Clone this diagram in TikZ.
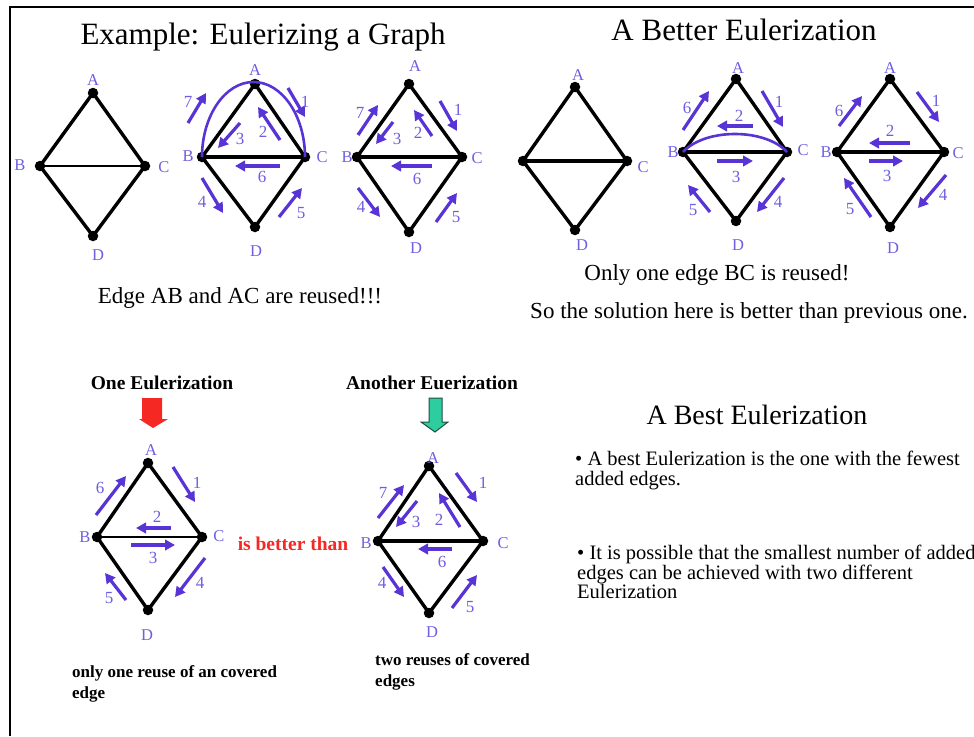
\documentclass[tikz,border=0pt]{standalone}
\usepackage{fontspec}
\setmainfont{Liberation Serif}
\usetikzlibrary{arrows.meta}
\definecolor{lblue}{RGB}{110,95,225}
\definecolor{ablue}{RGB}{88,52,215}
\definecolor{tealc}{RGB}{45,205,160}
\definecolor{tealb}{RGB}{30,80,65}
\definecolor{redc}{RGB}{245,40,35}
\newcommand\fsz[1]{\fontsize{#1}{#1}\selectfont}
\newcommand\flow[5]{\coordinate (#1s) at (#2); \coordinate (#1e) at (#3); \draw[arr] (#1s) -- (#1e); \node[num] (#1n) at (#5) {#4};}
\newcommand\vx[2]{\node[vtx] (#1) at (#2) {};}
\newcommand\lb[3]{\node[lbl] (#1) at (#2) {#3};}
\begin{document}
\begin{tikzpicture}[x=1pt,y=-1pt,
  vtx/.style={circle,fill=black,inner sep=0pt,minimum size=10.5pt},
  edg/.style={line width=3.4pt,line join=round},
  lbl/.style={text=lblue,font=\fsz{16.5},inner sep=0pt},
  num/.style={text=lblue,font=\fsz{17},inner sep=0pt},
  arr/.style={draw=ablue,line width=3.2pt,-{Triangle[length=10pt,width=10.5pt]}},
  arcs/.style={draw=ablue,line width=2.6pt},
  title/.style={font=\fsz{31},inner sep=0pt},
  body/.style={font=\fsz{23},inner sep=0pt},
  bbold/.style={font=\bfseries\fsz{19.5},inner sep=0pt},
  small/.style={font=\bfseries\fontsize{17}{21}\selectfont,inner sep=0pt,align=left,anchor=west},
  bullet/.style={font=\fontsize{20.5}{19.5}\selectfont,inner sep=0pt,align=left,anchor=north west},
]
\useasboundingbox (0,0) rectangle (974,736);
\fill[white] (0,0) rectangle (974,736);
\draw[line width=2pt] (10,736) -- (10,7) -- (974,7);

% titles and texts
\node[title] (t1) at (263,37) {Example: Eulerizing a Graph};
\node[title] (t2) at (744,30) {A Better Eulerization};
\node[body] (t3) at (240,298) {Edge AB and AC are reused!!!};
\node[body] (t4) at (717,275) {Only one edge BC is reused!};
\node[body] (t5) at (749,313) {So the solution here is better than previous one.};
\node[bbold] (t6) at (162,383) {One Eulerization};
\node[bbold] (t7) at (432,383) {Another Euerization};
\node[bbold,text=redc] (t8) at (293,544) {is better than};
\node[small] (t9) at (72,684) {only one reuse of an covered\\edge};
\node[small] (t10) at (375,672) {two reuses of covered\\edges};
\node[font=\fsz{28},inner sep=0pt] (t11) at (757,415) {A Best Eulerization};
\begin{scope}
\clip (0,0) rectangle (974,736);
\node[bullet] (t12) at (575,451) {• A best Eulerization is the one with the fewest\\added edges.};
\node[bullet] (t13) at (577,545) {• It is possible that the smallest number of added\\edges can be achieved with two different\\Eulerization};
\end{scope}

% block arrows
\fill[redc] (142,398) -- (162,398) -- (162,419) -- (168,419) -- (153,428) -- (139,419) -- (142,419) -- cycle;
\filldraw[fill=tealc,draw=tealb,line width=1pt] (429,398) -- (442,398) -- (442,422) -- (448,422) -- (435,432) -- (421,422) -- (429,422) -- cycle;

% graph 1
\vx{g1A}{93,93}\vx{g1B}{40,166}\vx{g1C}{145,166}\vx{g1D}{93,236}
\draw[edg] (g1A.center) -- (g1B.center) -- (g1D.center) -- (g1C.center) -- cycle;
\draw[line width=2.8pt] (g1B.center) -- (g1C.center);
\lb{g1a}{93,80}{A}\lb{g1b}{20,165}{B}\lb{g1c}{164,167}{C}\lb{g1d}{98,255}{D}

% graph 2
\vx{g2A}{255,84}\vx{g2B}{202,157}\vx{g2C}{305,157}\vx{g2D}{255,227}
\draw[edg] (g2A.center) -- (g2B.center) -- (g2D.center) -- (g2C.center) -- cycle;
\draw[edg] (g2B.center) -- (g2C.center);
\draw[arcs] (g2B.center) .. controls (202,116) and (225,82) .. (253.5,82) .. controls (282,82) and (305,116) .. (g2C.center);
\lb{g2a}{255,70}{A}\lb{g2b}{188,156}{B}\lb{g2c}{322,157}{C}\lb{g2d}{256,251}{D}
\flow{g2f1}{288,88}{305,117}{1}{305,102}
\flow{g2f2}{280,140}{258,107}{2}{263,132}
\flow{g2f3}{240,123}{218,148}{3}{240,139}
\flow{g2f4}{202,178}{223,213}{4}{202,202}
\flow{g2f5}{279,217}{302,188}{5}{301,213}
\flow{g2f6}{280,166}{235,166}{6}{262,177}
\flow{g2f7}{188,123}{206,93}{7}{188,102}

% graph 3
\vx{g3A}{409,84}\vx{g3B}{357,157}\vx{g3C}{462,157}\vx{g3D}{409,232}
\draw[edg] (g3A.center) -- (g3B.center) -- (g3D.center) -- (g3C.center) -- cycle;
\draw[edg] (g3B.center) -- (g3C.center);
\lb{g3a}{415,66}{A}\lb{g3b}{347,157}{B}\lb{g3c}{477,158}{C}\lb{g3d}{416,248}{D}
\flow{g3f1}{440,101}{457,131}{1}{458,110}
\flow{g3f2}{432,136}{414,110}{2}{418,133}
\flow{g3f3}{393,122}{376,144}{3}{397,139}
\flow{g3f4}{358,188}{380,217}{4}{361,207}
\flow{g3f5}{436,222}{457,193}{5}{456,217}
\flow{g3f6}{432,166}{391,166}{6}{417,179}
\flow{g3f7}{358,135}{378,105}{7}{360,113}

% graph 4
\vx{g4A}{575,87}\vx{g4B}{523,161}\vx{g4C}{627,161}\vx{g4D}{575,230}
\draw[edg] (g4A.center) -- (g4B.center) -- (g4D.center) -- (g4C.center) -- cycle;
\draw[edg] (g4B.center) -- (g4C.center);
\lb{g4a}{578,75}{A}\lb{g4c}{643,167}{C}\lb{g4d}{582,245}{D}

% graph 5
\vx{g5A}{736,79}\vx{g5B}{683,152}\vx{g5C}{787,152}\vx{g5D}{736,221}
\draw[edg] (g5A.center) -- (g5B.center) -- (g5D.center) -- (g5C.center) -- cycle;
\draw[edg] (g5B.center) -- (g5C.center);
\draw[arcs] (g5B.center) .. controls (705,128) and (765,128) .. (g5C.center);
\lb{g5a}{738,68}{A}\lb{g5b}{673,152}{B}\lb{g5c}{803,150}{C}\lb{g5d}{738,245}{D}
\flow{g5f1}{762,91}{783,127}{1}{779,102}
\flow{g5f2}{753,126}{717,126}{2}{739,116}
\flow{g5f3}{717,161}{753,161}{3}{736,177}
\flow{g5f4}{784,178}{757,212}{4}{778,202}
\flow{g5f5}{710,212}{688,185}{5}{693,210}
\flow{g5f6}{683,130}{709,91}{6}{687,108}

% graph 6
\vx{g6A}{890,79}\vx{g6B}{837,152}\vx{g6C}{944,152}\vx{g6D}{890,227}
\draw[edg] (g6A.center) -- (g6B.center) -- (g6D.center) -- (g6C.center) -- cycle;
\draw[edg] (g6B.center) -- (g6C.center);
\lb{g6a}{890,68}{A}\lb{g6b}{826,152}{B}\lb{g6c}{958,153}{C}\lb{g6d}{893,248}{D}
\flow{g6f1}{917,92}{939,122}{1}{936,101}
\flow{g6f2}{910,143}{869,143}{2}{890,131}
\flow{g6f3}{869,161}{903,161}{3}{887,176}
\flow{g6f4}{946,175}{918,208}{4}{943,195}
\flow{g6f5}{871,217}{844,178}{5}{850,209}
\flow{g6f6}{839,126}{862,96}{6}{839,111}

% graph 7
\vx{g7A}{148,463}\vx{g7B}{97,537}\vx{g7C}{202,537}\vx{g7D}{148,610}
\draw[edg] (g7A.center) -- (g7B.center) -- (g7D.center) -- (g7C.center) -- cycle;
\draw[line width=2.2pt] (g7B.center) -- (g7C.center);
\lb{g7a}{151,450}{A}\lb{g7b}{85,537}{B}\lb{g7c}{219,536}{C}\lb{g7d}{147,635}{D}
\flow{g7f1}{173,467}{195,502}{1}{197,483}
\flow{g7f2}{171,528}{136,528}{2}{157,517}
\flow{g7f3}{131,545}{175,545}{3}{153,558}
\flow{g7f4}{205,558}{175,597}{4}{200,583}
\flow{g7f5}{126,600}{105,573}{5}{109,598}
\flow{g7f6}{96,515}{126,476}{6}{100,488}

% graph 8
\vx{g8A}{429,466}\vx{g8B}{378,541}\vx{g8C}{483,541}\vx{g8D}{429,613}
\draw[edg] (g8A.center) -- (g8B.center) -- (g8D.center) -- (g8C.center) -- cycle;
\draw[edg] (g8B.center) -- (g8C.center);
\lb{g8a}{433,458}{A}\lb{g8b}{366,543}{B}\lb{g8c}{503,543}{C}\lb{g8d}{432,632}{D}
\flow{g8f1}{456,473}{477,502}{1}{483,483}
\flow{g8f2}{460,527}{439,493}{2}{439,520}
\flow{g8f3}{417,501}{396,527}{3}{416,522}
\flow{g8f4}{383,567}{404,597}{4}{382,583}
\flow{g8f5}{452,608}{477,575}{5}{470,607}
\flow{g8f6}{452,549}{418,549}{6}{442,562}
\flow{g8f7}{378,518}{404,485}{7}{383,493}
\end{tikzpicture}
\end{document}
